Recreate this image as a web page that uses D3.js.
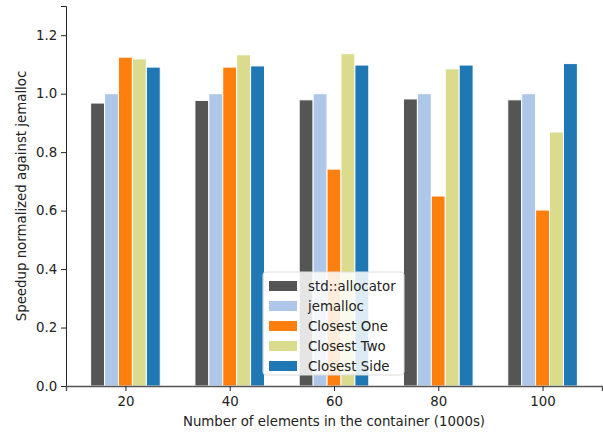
<!DOCTYPE html>
<html>
<head>
<meta charset="utf-8">
<script src="https://cdn.jsdelivr.net/npm/d3@7"></script>
<style>
  html, body { margin: 0; padding: 0; background: #fff; }
  svg { display: block; font-family: "DejaVu Sans", sans-serif; }
</style>
</head>
<body>
<svg id="chart" width="603" height="432"></svg>
<script>
// Container sizes (thousands of elements)
const sizes = [20, 40, 60, 80, 100];
const seriesNames = ["std::allocator", "jemalloc", "Closest One", "Closest Two", "Closest Side"];
const seriesColors = ["#555555", "#aec7e8", "#ff7f0e", "#dbdb8d", "#1f77b4"];

// Speedup relative to jemalloc, one array per allocator
const stdAllocator = [0.968, 0.977, 0.979, 0.982, 0.979];
const jemalloc     = [1.0, 1.0, 1.0, 1.0, 1.0];
const closestOne   = [1.125, 1.091, 0.742, 0.650, 0.602];
const closestTwo   = [1.119, 1.133, 1.137, 1.085, 0.869];
const closestSide  = [1.091, 1.095, 1.098, 1.098, 1.103];
const seriesValues = [stdAllocator, jemalloc, closestOne, closestTwo, closestSide];

const yTicks = [0.0, 0.2, 0.4, 0.6, 0.8, 1.0, 1.2];

const svg = d3.select("#chart");
const margin = { left: 66, right: 1, top: 6, bottom: 46 };
const W = 603, H = 432;

const barW = 2.67; // in data units along x
const x = d3.scaleLinear().domain([8.6, 111.4]).range([margin.left, W - margin.right]);
const y = d3.scaleLinear().domain([0, 1.3]).range([H - margin.bottom, margin.top]);

// Bars
seriesValues.forEach((vals, i) => {
  svg.append("g")
    .selectAll("rect")
    .data(vals.map((v, j) => ({ v, s: sizes[j] })))
    .join("rect")
    .attr("x", d => x(d.s + (i - 2.5) * barW))
    .attr("width", d => x(d.s + (i - 1.5) * barW) - x(d.s + (i - 2.5) * barW))
    .attr("y", d => y(d.v))
    .attr("height", d => y(0) - y(d.v))
    .attr("fill", seriesColors[i])
    .attr("stroke", "#fff")
    .attr("stroke-width", 1);
});

// Axes
const fontSize = "13.33px";
const yAxis = svg.append("g")
  .attr("transform", `translate(${margin.left},0)`)
  .call(d3.axisLeft(y).tickValues(yTicks).tickFormat(d3.format(".1f")).tickSizeOuter(0).tickSize(5).tickPadding(3.7));
yAxis.select(".domain").attr("stroke", "#222").attr("stroke-width", 1);
yAxis.selectAll(".tick line").attr("stroke", "#222");
yAxis.selectAll("text").attr("font-size", fontSize).attr("font-family", "DejaVu Sans").attr("fill", "#222");

const xAxis = svg.append("g")
  .attr("transform", `translate(0,${y(0)})`)
  .call(d3.axisBottom(x).tickValues(sizes).tickFormat(d3.format("d")).tickSizeOuter(0).tickSize(5).tickPadding(5.3));
xAxis.select(".domain").attr("stroke", "#555").attr("stroke-width", 1.5);
xAxis.selectAll(".tick line").attr("stroke", "#222");
xAxis.selectAll("text").attr("font-size", fontSize).attr("font-family", "DejaVu Sans").attr("fill", "#222");

// Axis titles
svg.append("text")
  .attr("x", (margin.left + W - margin.right) / 2)
  .attr("y", 426)
  .attr("text-anchor", "middle")
  .attr("font-size", fontSize)
  .attr("fill", "#222")
  .text("Number of elements in the container (1000s)");

svg.append("text")
  .attr("transform", `translate(26,${(y(0) + margin.top) / 2}) rotate(-90)`)
  .attr("text-anchor", "middle")
  .attr("font-size", fontSize)
  .attr("fill", "#222")
  .text("Speedup normalized against jemalloc");

// Legend
const lg = svg.append("g").attr("transform", "translate(263,272)");
lg.append("rect")
  .attr("width", 141).attr("height", 103)
  .attr("rx", 3).attr("ry", 3)
  .attr("fill", "#fff").attr("fill-opacity", 0.85)
  .attr("stroke", "#ddd").attr("stroke-width", 1);
seriesNames.forEach((name, i) => {
  const row = lg.append("g").attr("transform", `translate(0,${14 + i * 20})`);
  row.append("rect").attr("x", 6).attr("y", -5).attr("width", 28).attr("height", 10).attr("fill", seriesColors[i]);
  row.append("text").attr("x", 45).attr("y", 0).attr("dy", "0.35em")
    .attr("font-size", fontSize).attr("fill", "#222").text(name);
});
</script>
</body>
</html>
